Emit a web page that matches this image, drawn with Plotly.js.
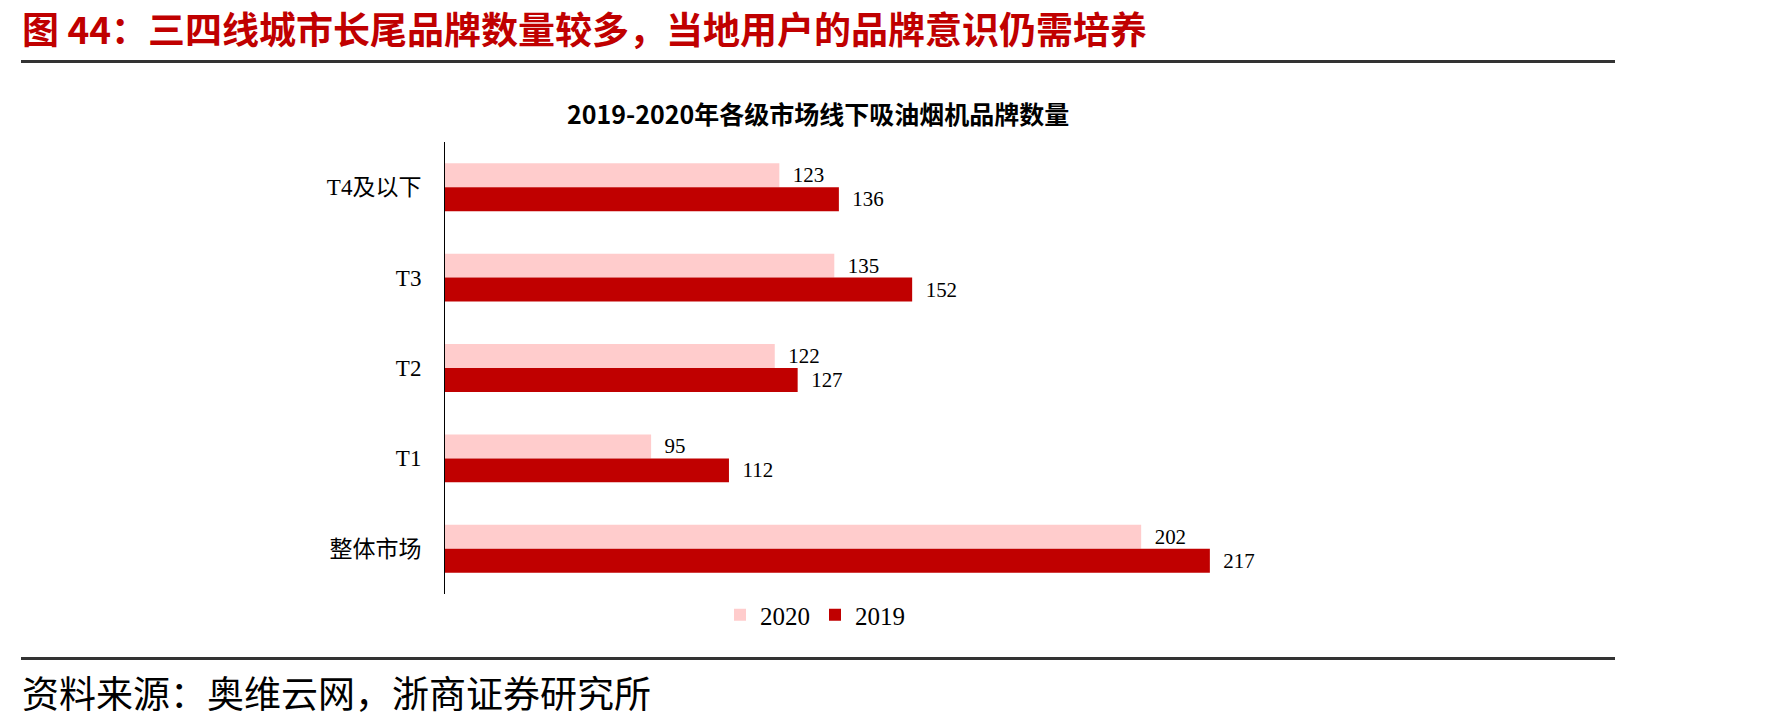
<!DOCTYPE html>
<html>
<head>
<meta charset="utf-8">
<script src="https://cdn.plot.ly/plotly-3.0.1.min.js"></script>
<style>
html,body{margin:0;padding:0;background:#fff;}
#chart{width:1771px;height:728px;}
</style>
</head>
<body>
<div id="chart"></div>
<script>
const categories = ['T4及以下', 'T3', 'T2', 'T1', '整体市场'];
const values2020 = [123, 135, 122, 95, 202];
const values2019 = [136, 152, 127, 112, 217];
const seriesNames = ['2020', '2019'];

const W = 1771, H = 728;
const px = v => v / W;
const py = v => 1 - v / H;

const labelFont = {family: 'Liberation Serif, Times New Roman, serif', size: 21, color: '#000'};

const traces = [
  {
    type: 'bar', orientation: 'h', name: seriesNames[0],
    y: categories, x: values2020,
    marker: {color: '#FFCCCC'},
    text: values2020, texttemplate: '  %{x}', textposition: 'outside',
    textfont: labelFont, cliponaxis: false, hoverinfo: 'skip'
  },
  {
    type: 'bar', orientation: 'h', name: seriesNames[1],
    y: categories, x: values2019,
    marker: {color: '#C00000'},
    text: values2019, texttemplate: '  %{x}', textposition: 'outside',
    textfont: labelFont, cliponaxis: false, hoverinfo: 'skip'
  }
];

const layout = {
  width: W, height: H,
  margin: {l: 0, r: 0, t: 0, b: 0},
  paper_bgcolor: '#fff', plot_bgcolor: '#fff',
  barmode: 'group', bargap: 0.47, bargroupgap: 0,
  showlegend: true,
  legend: {
    orientation: 'h', x: px(815), xanchor: 'center', y: py(615), yanchor: 'middle',
    font: {family: 'Liberation Serif, Times New Roman, serif', size: 25, color: '#000'},
    itemwidth: 30, traceorder: 'normal'
  },
  xaxis: {
    domain: [px(445), px(1361)], range: [50, 250],
    visible: false, showgrid: false, zeroline: false
  },
  yaxis: {
    domain: [py(594), py(142)], autorange: 'reversed', type: 'category',
    showline: true, linecolor: '#000', linewidth: 1,
    ticks: '', showgrid: false, zeroline: false,
    ticklabelstandoff: 18,
    tickfont: {family: 'Liberation Serif, Noto Sans CJK SC, serif', size: 23, color: '#000'}
  },
  shapes: [
    {type: 'line', xref: 'paper', yref: 'paper', x0: px(21), x1: px(1615), y0: py(61.5), y1: py(61.5),
     line: {color: '#333', width: 3}},
    {type: 'line', xref: 'paper', yref: 'paper', x0: px(21), x1: px(1615), y0: py(658.5), y1: py(658.5),
     line: {color: '#333', width: 3}}
  ],
  annotations: [
    {text: '<b>图 44：三四线城市长尾品牌数量较多，当地用户的品牌意识仍需培养</b>',
     xref: 'paper', yref: 'paper', x: px(20), y: py(28), xanchor: 'left', yanchor: 'middle',
     showarrow: false, font: {family: 'Noto Sans CJK SC, sans-serif', size: 37, color: '#C00000'}},
    {text: '<b>2019-2020年各级市场线下吸油烟机品牌数量</b>',
     xref: 'paper', yref: 'paper', x: px(818), y: py(113), xanchor: 'center', yanchor: 'middle',
     showarrow: false, font: {family: 'Noto Sans CJK SC, sans-serif', size: 25, color: '#000'}},
    {text: '资料来源：奥维云网，浙商证券研究所',
     xref: 'paper', yref: 'paper', x: px(20), y: py(692), xanchor: 'left', yanchor: 'middle',
     showarrow: false, font: {family: 'Noto Sans CJK SC, sans-serif', size: 37, color: '#000'}}
  ]
};

Plotly.newPlot('chart', traces, layout, {staticPlot: true, displayModeBar: false});
</script>
</body>
</html>
